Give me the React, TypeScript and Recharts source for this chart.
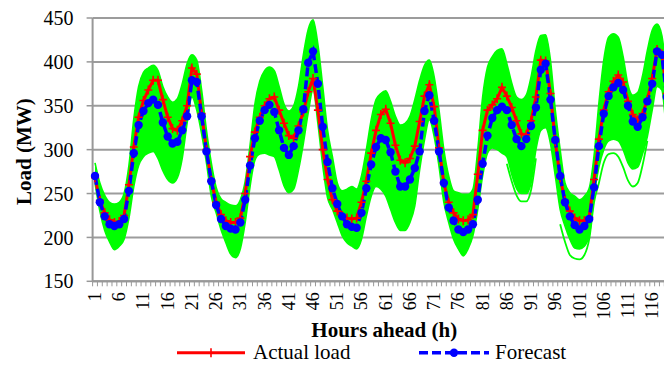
import React from 'react';
import { ComposedChart, Area, Line, XAxis, YAxis, CartesianGrid, Legend } from 'recharts';

// Forecast horizon, one category per hour
const HOURS = Array.from({ length: 120 }, (_, i) => i + 1);
const HOUR_LABELS = [1, 6, 11, 16, 21, 26, 31, 36, 41, 46, 51, 56, 61, 66, 71, 76, 81, 86, 91, 96, 101, 106, 111, 116];
const LOAD_TICKS = [150, 200, 250, 300, 350, 400, 450];

// Measured load (MW)
const ACTUAL = [
  268, 242, 228, 220, 217, 218, 225, 260, 303, 337, 356, 368, 379, 379, 357, 337, 324, 322, 333, 350, 393, 386, 341, 300,
  265, 240, 226, 219, 217, 217, 222, 250, 292, 320, 337, 350, 358, 360, 345, 330, 316, 313, 327, 343, 366, 381, 345, 300,
  266, 243, 230, 225, 222, 221, 222, 240, 264, 296, 322, 340, 346, 330, 305, 288, 285, 290, 304, 332, 361, 374, 349, 302,
  262, 240, 228, 221, 219, 220, 226, 272, 322, 345, 351, 358, 371, 361, 348, 333, 318, 317, 333, 360, 402, 401, 364, 309,
  268, 242, 230, 222, 219, 219, 223, 266, 312, 345, 366, 378, 385, 377, 355, 340, 334, 341, 357, 381, 414, 409, 364, 313,
];

// Point forecast (MW)
const FORECAST = [
  270, 240, 224, 215, 213, 215, 221, 253, 296, 328, 344, 353, 357, 351, 331, 315, 307, 309, 322, 338, 379, 377, 338, 298,
  264, 237, 221, 213, 210, 209, 217, 243, 282, 313, 333, 345, 351, 343, 322, 302, 294, 304, 322, 346, 399, 412, 375, 326,
  286, 256, 238, 224, 215, 212, 211, 228, 256, 283, 303, 313, 311, 297, 275, 258, 258, 266, 279, 298, 344, 362, 333, 298,
  262, 234, 219, 209, 206, 209, 215, 243, 284, 316, 336, 345, 349, 345, 328, 312, 304, 312, 327, 348, 391, 398, 357, 311,
  270, 240, 224, 214, 209, 213, 221, 257, 304, 341, 361, 371, 376, 368, 350, 332, 326, 337, 355, 375, 412, 408, 360, 309,
];

// Upper edge of the scenario ensemble (MW)
const ENSEMBLE_HIGH = [
  285, 262, 248, 240, 238, 240, 250, 282, 335, 372, 388, 393, 396, 390, 372, 360, 354, 358, 375, 398, 408, 402, 368, 322,
  285, 257, 244, 240, 237, 236, 243, 264, 305, 352, 378, 390, 394, 390, 372, 352, 344, 350, 372, 408, 437, 448, 420, 372,
  322, 292, 262, 253, 255, 258, 255, 270, 300, 334, 357, 364, 367, 355, 338, 328, 330, 338, 357, 379, 396, 402, 383, 345,
  300, 270, 253, 251, 249, 249, 255, 300, 360, 394, 406, 413, 415, 398, 376, 360, 357, 362, 383, 413, 430, 431, 402, 345,
  300, 262, 251, 247, 243, 247, 256, 293, 353, 402, 428, 432, 428, 406, 374, 362, 365, 384, 413, 436, 443, 430, 385, 340,
];

// Lower edge of the dense part of the ensemble (MW)
const ENSEMBLE_LOW = [
  262, 230, 208, 195, 186, 190, 198, 222, 258, 282, 292, 296, 298, 290, 276, 266, 262, 268, 290, 330, 360, 345, 318, 285,
  247, 228, 209, 194, 181, 177, 187, 217, 258, 288, 295, 296, 294, 292, 277, 259, 251, 255, 277, 307, 342, 368, 330, 282,
  245, 232, 217, 202, 194, 190, 187, 198, 224, 247, 258, 255, 247, 232, 217, 208, 208, 217, 236, 277, 311, 334, 315, 281,
  240, 217, 198, 187, 179, 187, 202, 232, 270, 296, 302, 300, 296, 292, 272, 256, 250, 250, 262, 300, 322, 325, 307, 270,
  232, 213, 198, 188, 187, 190, 202, 247, 280, 300, 310, 312, 310, 300, 285, 278, 280, 295, 315, 345, 372, 368, 318, 282,
];

// Isolated low scenarios below the dense band: [hour, MW]
const LOW_SCENARIO_A: [number, number][] = [
  [86, 284], [87, 264], [88, 248], [89, 241], [90, 241], [91, 254], [92, 290],
];
const LOW_SCENARIO_B: [number, number][] = [
  [97, 215], [98, 195], [99, 180], [100, 176], [101, 175], [102, 180], [103, 198], [104, 240],
  [105, 262], [106, 285], [107, 295], [108, 296], [109, 292], [110, 280], [111, 265], [112, 258],
  [113, 262], [114, 282], [115, 310],
];

const scenarioA = new Map(LOW_SCENARIO_A);
const scenarioB = new Map(LOW_SCENARIO_B);

const rows = HOURS.map((hour, i) => ({
  hour,
  actual: ACTUAL[i],
  forecast: FORECAST[i],
  band: [ENSEMBLE_LOW[i], ENSEMBLE_HIGH[i]],
  lowA: scenarioA.has(hour) ? scenarioA.get(hour) : null,
  lowB: scenarioB.has(hour) ? scenarioB.get(hour) : null,
}));

const SERIF = '"Liberation Serif", "Times New Roman", serif';
const AXIS = '#989898';
const GRID = '#9c9c9c';
const GREEN = '#00FF00';
const RED = '#FF0000';
const BLUE = '#0000FF';

const CHART_W = 680;
const CHART_H = 365;
const MARGIN = { top: 18, right: 6, bottom: 0, left: 0 };
const Y_AXIS_W = 92.6;
const X_AXIS_H = 83.7;
const PLOT_W = CHART_W - MARGIN.left - MARGIN.right - Y_AXIS_W;
const HALF_STEP = PLOT_W / HOURS.length / 2;

function HourTick(props: any) {
  const { x, y, payload } = props;
  const v = payload.value;
  const tx = x + 6;
  const ty = y + 11;
  return (
    <g>
      <line x1={x - HALF_STEP} x2={x - HALF_STEP} y1={y} y2={y + 5} stroke={AXIS} strokeWidth={1} />
      {v === HOURS[HOURS.length - 1] && (
        <line x1={x + HALF_STEP} x2={x + HALF_STEP} y1={y} y2={y + 5} stroke={AXIS} strokeWidth={1} />
      )}
      {HOUR_LABELS.includes(v) && (
        <text
          x={tx}
          y={ty}
          transform={`rotate(-90 ${tx} ${ty})`}
          textAnchor="end"
          fontSize={18}
          fontFamily={SERIF}
          fill="#000"
        >
          {v}
        </text>
      )}
    </g>
  );
}

function PlusDot(props: any) {
  const { cx, cy, index } = props;
  if (cx == null || cy == null) return <g key={`a-${index}`} />;
  return (
    <path
      key={`a-${index}`}
      d={`M${cx - 4},${cy}h8M${cx},${cy - 4.5}v9`}
      stroke={RED}
      strokeWidth={1.6}
      fill="none"
    />
  );
}

const LEGEND_SLOTS: Record<string, { x1: number; x2: number; tx: number }> = {
  actual: { x1: 177, x2: 245, tx: 253 },
  forecast: { x1: 419, x2: 489, tx: 495 },
};

function LegendContent(props: any) {
  const entries = (props.payload || []).filter((e: any) => LEGEND_SLOTS[e.dataKey]);
  const ly = 12.7;
  return (
    <svg width={CHART_W} height={26} style={{ display: 'block' }}>
      {entries.map((e: any) => {
        const s = LEGEND_SLOTS[e.dataKey];
        const mid = (s.x1 + s.x2) / 2;
        const isForecast = e.dataKey === 'forecast';
        return (
          <g key={e.dataKey}>
            <line
              x1={s.x1}
              x2={s.x2}
              y1={ly}
              y2={ly}
              stroke={e.color}
              strokeWidth={isForecast ? 3.5 : 3}
              strokeDasharray={isForecast ? '9 4' : undefined}
            />
            {isForecast ? (
              <circle cx={mid} cy={ly} r={4.2} fill={e.color} />
            ) : (
              <path d={`M${mid},${ly - 4.5}v9`} stroke={e.color} strokeWidth={1.6} />
            )}
            <text x={s.tx} y={ly + 6.5} fontSize={21} fontFamily={SERIF} fill="#000">
              {e.value}
            </text>
          </g>
        );
      })}
    </svg>
  );
}

export default function App() {
  return (
    <div style={{ marginLeft: -8, marginTop: -8, width: 672, height: 365, overflow: 'hidden', background: '#fff' }}>
      <ComposedChart width={CHART_W} height={CHART_H} data={rows} margin={MARGIN}>
        <CartesianGrid vertical={false} stroke={GRID} strokeWidth={2} />
        <XAxis
          dataKey="hour"
          type="number"
          domain={[0.5, 120.5]}
          ticks={HOURS}
          interval={0}
          height={X_AXIS_H}
          tickSize={0}
          tickMargin={0}
          tickLine={false}
          axisLine={{ stroke: AXIS, strokeWidth: 2 }}
          tick={<HourTick />}
          label={{
            content: (p: any) => {
              const vb = p.viewBox || {};
              return (
                <text
                  x={vb.x + vb.width / 2 + 1}
                  y={337}
                  textAnchor="middle"
                  fontSize={21}
                  fontWeight="bold"
                  fontFamily={SERIF}
                  fill="#000"
                >
                  Hours ahead (h)
                </text>
              );
            },
          }}
        />
        <YAxis
          type="number"
          domain={[150, 450]}
          ticks={LOAD_TICKS}
          interval={0}
          width={Y_AXIS_W}
          tickSize={6}
          tickMargin={13}
          allowDataOverflow
          axisLine={{ stroke: AXIS, strokeWidth: 2 }}
          tickLine={{ stroke: AXIS, strokeWidth: 1.5 }}
          tick={{ fontSize: 20, fill: '#000', fontFamily: SERIF }}
          label={{
            content: (p: any) => {
              const vb = p.viewBox || {};
              const cy = vb.y + vb.height / 2 + 2;
              return (
                <text
                  x={31}
                  y={cy}
                  transform={`rotate(-90 31 ${cy})`}
                  textAnchor="middle"
                  fontSize={21}
                  fontWeight="bold"
                  fontFamily={SERIF}
                  fill="#000"
                >
                  Load (MW)
                </text>
              );
            },
          }}
        />
        <Legend
          verticalAlign="middle"
          align="center"
          layout="horizontal"
          wrapperStyle={{ position: 'absolute', left: 0, top: 340, width: CHART_W, height: 26 }}
          content={<LegendContent />}
        />
        <Area
          dataKey="band"
          type="monotone"
          stroke={GREEN}
          strokeWidth={1.6}
          fill={GREEN}
          fillOpacity={1}
          legendType="none"
          activeDot={false}
          isAnimationActive={false}
        />
        <Line
          dataKey="lowA"
          type="monotone"
          stroke={GREEN}
          strokeWidth={1.8}
          dot={false}
          activeDot={false}
          legendType="none"
          isAnimationActive={false}
        />
        <Line
          dataKey="lowB"
          type="monotone"
          stroke={GREEN}
          strokeWidth={1.8}
          dot={false}
          activeDot={false}
          legendType="none"
          isAnimationActive={false}
        />
        <Line
          dataKey="actual"
          name="Actual load"
          type="linear"
          stroke={RED}
          strokeWidth={3}
          dot={PlusDot}
          activeDot={false}
          isAnimationActive={false}
        />
        <Line
          dataKey="forecast"
          name="Forecast"
          type="linear"
          stroke={BLUE}
          strokeWidth={3.5}
          strokeDasharray="9 4"
          dot={{ r: 4.2, fill: BLUE, stroke: 'none' }}
          activeDot={false}
          isAnimationActive={false}
        />
      </ComposedChart>
    </div>
  );
}
